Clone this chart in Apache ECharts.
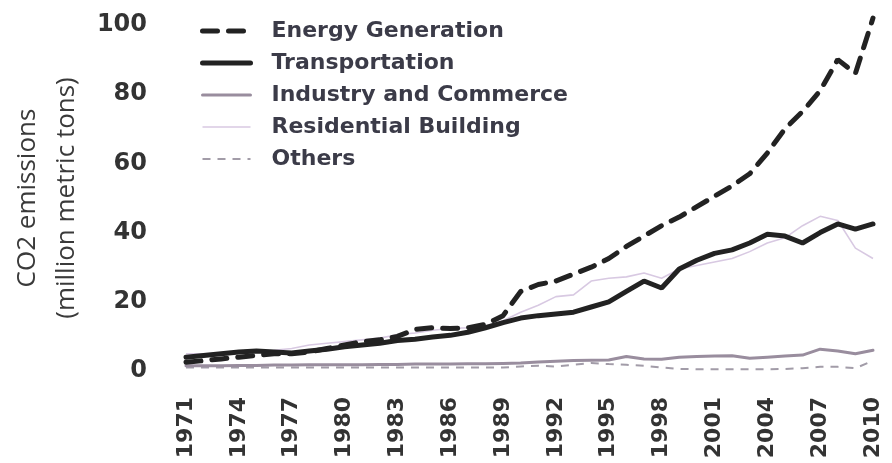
<!DOCTYPE html>
<html>
<head>
<meta charset="utf-8">
<script src="https://cdn.jsdelivr.net/npm/echarts@6/dist/echarts.min.js"></script>
<style>
html,body{margin:0;padding:0;background:#fff;}
#c{width:892px;height:463px;}
</style>
</head>
<body>
<div id="c"></div>
<script>
const years = [];
for (let y = 1971; y <= 2010; y++) years.push(String(y));

const energyGeneration = [2.5,3,3.5,4,4.5,5,5,5.5,6.5,7.5,8.5,9,10,12,12.5,12.3,12.5,13.5,16,23,25,26,28,30,32.5,36,39,42,44.5,47.5,50.5,53.5,57,63,70,75,81,90,86,102];
const transportation = [4,4.5,5,5.5,5.8,5.5,5.2,5.8,6.3,7,7.5,8,8.8,9.2,9.8,10.3,11.2,12.5,14,15.3,16,16.5,17,18.5,20,23,26,24,29.5,32,34,35,37,39.5,39,37,40,42.5,41,42.5];
const industryCommerce = [1.5,1.5,1.5,1.6,1.6,1.7,1.7,1.8,1.8,1.8,1.8,1.9,1.9,2,2,2,2.1,2.1,2.2,2.3,2.6,2.8,3,3.1,3.2,4.2,3.5,3.4,4,4.2,4.3,4.4,3.7,4,4.3,4.6,6.3,5.8,5,6];
const residentialBuilding = [5,5,5.2,5.5,5.8,6,6.5,7.5,8,8.5,9,9.5,10.5,11,11.8,12.3,12.5,13,14.5,17,19,21.5,22,26,26.8,27.2,28.3,26.8,29.5,30.5,31.5,32.5,34.5,37,38.5,42,44.7,43.5,35.5,32.5];
const others = [1,1,1,1,1,1,1,1,1,1,1,1,1,1,1,1,1,1,1,1.3,1.5,1.3,1.8,2.3,2,1.8,1.5,1,0.6,0.5,0.5,0.5,0.5,0.5,0.6,0.8,1.2,1.2,0.8,3];

const seriesNames = ['Energy Generation','Transportation','Industry and Commerce','Residential Building','Others'];
const yTicks = {min: 0, max: 100, interval: 20};

const styles = [
  {color: '#222', width: 5, type: [15, 11], cap: 'round'},
  {color: '#222', width: 5, type: 'solid', cap: 'round'},
  {color: '#998d9e', width: 3, type: 'solid', cap: 'round'},
  {color: '#d8c9e2', width: 1.6, type: 'solid', cap: 'butt'},
  {color: '#a29ca8', width: 2, type: [8, 7], cap: 'butt'}
];
const datasets = [energyGeneration, transportation, industryCommerce, residentialBuilding, others];

const chart = echarts.init(document.getElementById('c'));
const labelFont = 'DejaVu Sans';
chart.setOption({
  backgroundColor: '#ffffff',
  animation: false,
  grid: {left: 180, right: 19, top: 25, bottom: 92},
  legend: {
    orient: 'vertical',
    left: 195,
    top: 15,
    itemWidth: 48,
    itemHeight: 20,
    itemGap: 10,
    itemStyle: {opacity: 0},
    data: seriesNames.map((n, i) => ({name: n, lineStyle: Object.assign({}, styles[i])})),
    textStyle: {fontFamily: labelFont, fontWeight: 'bold', fontSize: 22, color: '#3b3b48', padding: [0,0,0,16]}
  },
  xAxis: {
    type: 'category',
    data: years,
    boundaryGap: false,
    axisLine: {show: false},
    axisTick: {show: false},
    splitLine: {show: false},
    axisLabel: {
      interval: 2,
      rotate: 90,
      margin: 26,
      fontFamily: labelFont,
      fontWeight: 'bold',
      fontSize: 22,
      color: '#333'
    }
  },
  yAxis: {
    type: 'value',
    min: yTicks.min, max: yTicks.max, interval: yTicks.interval,
    axisLine: {show: false},
    axisTick: {show: false},
    splitLine: {show: false},
    axisLabel: {margin: 39, fontFamily: labelFont, fontWeight: 'bold', fontSize: 24, color: '#333'},
    name: 'CO2 emissions\n(million metric tons)',
    nameLocation: 'middle',
    nameGap: 97,
    nameTextStyle: {fontFamily: 'Open Sans', fontSize: 26, lineHeight: 39, color: '#3a3a3a'}
  },
  series: seriesNames.map((n, i) => ({
    name: n, type: 'line', data: datasets[i], symbol: 'none', clip: false, z: 5 - i,
    lineStyle: styles[i], itemStyle: {color: styles[i].color}
  }))
});
</script>
</body>
</html>
